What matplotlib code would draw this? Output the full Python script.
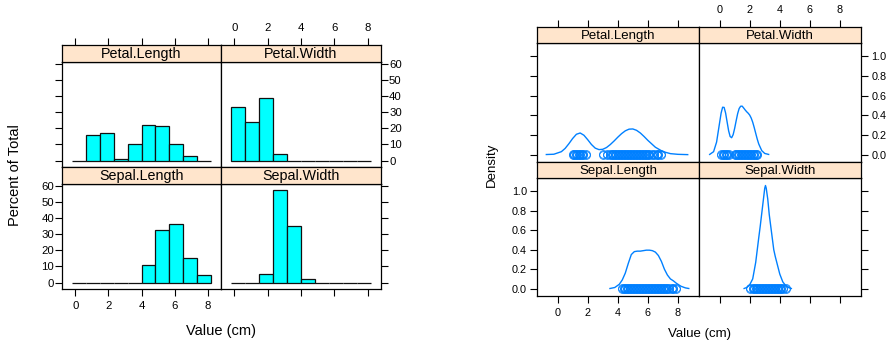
import numpy as np
import matplotlib
matplotlib.use("Agg")
import matplotlib.pyplot as plt

plt.rcParams['font.family'] = ['Liberation Sans', 'DejaVu Sans']

W, H = 893, 344

# panel names, in reading order (top-left, top-right, bottom-left, bottom-right)
variables = ["Petal.Length", "Petal.Width", "Sepal.Length", "Sepal.Width"]

# histogram: common bin edges (cm) and percent of total per panel
hist_edges = [-0.212, 0.630, 1.473, 2.315, 3.158, 4.000, 4.842, 5.685, 6.527, 7.370, 8.212]
pct_petal_length = [0, 16.0, 17.3, 0.7, 10.0, 22.0, 21.3, 10.0, 2.7, 0]
pct_petal_width = [33.3, 24.0, 38.7, 4.0, 0, 0, 0, 0, 0, 0]
pct_sepal_length = [0, 0, 0, 0, 0, 10.7, 32.7, 36.7, 15.3, 4.7]
pct_sepal_width = [0, 0, 5.3, 57.3, 35.3, 2.0, 0, 0, 0, 0]

# density curves
dens_pl_x = [-0.75, -0.25, 0.25, 0.5, 0.75, 1.0, 1.25, 1.5, 1.75, 2.0, 2.25, 2.5, 2.75,
             3.0, 3.25, 3.5, 3.75, 4.0, 4.25, 4.5, 4.75, 5.0, 5.25, 5.5, 5.75, 6.0,
             6.5, 7.0, 7.5, 8.0, 8.65]
dens_pl_y = [0.001, 0.004, 0.030, 0.063, 0.111, 0.164, 0.207, 0.220, 0.197, 0.152, 0.103,
             0.066, 0.051, 0.054, 0.072, 0.102, 0.138, 0.177, 0.213, 0.242, 0.259, 0.261,
             0.247, 0.220, 0.184, 0.145, 0.075, 0.031, 0.010, 0.003, 0.000]

dens_pw_x = [-0.66, -0.4, -0.2, 0.0, 0.1, 0.2, 0.3, 0.4, 0.5, 0.6, 0.7, 0.8, 0.9, 1.0,
             1.1, 1.2, 1.3, 1.4, 1.5, 1.6, 1.7, 1.8, 1.9, 2.0, 2.1, 2.2, 2.3, 2.4, 2.5,
             2.6, 2.8, 3.0, 3.26]
dens_pw_y = [0.002, 0.030, 0.128, 0.325, 0.422, 0.482, 0.480, 0.422, 0.331, 0.242, 0.184,
             0.172, 0.203, 0.267, 0.344, 0.417, 0.469, 0.492, 0.493, 0.474, 0.454, 0.436,
             0.421, 0.402, 0.372, 0.330, 0.276, 0.217, 0.159, 0.109, 0.041, 0.012, 0.002]

dens_sl_x = [3.48, 3.8, 4.1, 4.3, 4.5, 4.7, 4.9, 5.1, 5.3, 5.5, 5.7, 5.9, 6.1, 6.3, 6.5,
             6.7, 6.9, 7.1, 7.3, 7.5, 7.7, 7.9, 8.2, 8.5, 8.72]
dens_sl_y = [0.002, 0.012, 0.045, 0.090, 0.160, 0.260, 0.350, 0.380, 0.385, 0.385, 0.390,
             0.395, 0.395, 0.390, 0.375, 0.340, 0.280, 0.200, 0.140, 0.100, 0.080, 0.055,
             0.025, 0.008, 0.002]

dens_sw_x = [1.63, 1.8, 2.0, 2.2, 2.4, 2.6, 2.7, 2.8, 2.9, 3.0, 3.05, 3.1, 3.2, 3.3, 3.4,
             3.5, 3.6, 3.7, 3.8, 3.9, 4.0, 4.2, 4.4, 4.6, 4.77]
dens_sw_y = [0.002, 0.012, 0.040, 0.100, 0.270, 0.520, 0.640, 0.770, 0.900, 1.030, 1.058,
             1.030, 0.920, 0.760, 0.640, 0.520, 0.400, 0.330, 0.270, 0.210, 0.150, 0.070,
             0.030, 0.010, 0.002]

# observed values shown as points under the density curves
pts_petal_length = [1.0, 1.1, 1.2, 1.3, 1.4, 1.5, 1.6, 1.7, 1.9, 3.0, 3.3, 3.5, 3.6, 3.7,
                    3.8, 3.9, 4.0, 4.1, 4.2, 4.3, 4.4, 4.5, 4.6, 4.7, 4.8, 4.9, 5.0, 5.1,
                    5.2, 5.3, 5.4, 5.5, 5.6, 5.7, 5.8, 5.9, 6.0, 6.1, 6.3, 6.4, 6.6, 6.7, 6.9]
pts_petal_width = [0.1, 0.2, 0.3, 0.4, 0.5, 0.6, 1.0, 1.1, 1.2, 1.3, 1.4, 1.5, 1.6, 1.7,
                   1.8, 1.9, 2.0, 2.1, 2.2, 2.3, 2.4, 2.5]
pts_sepal_length = [4.3, 4.4, 4.5, 4.6, 4.7, 4.8, 4.9, 5.0, 5.1, 5.2, 5.3, 5.4, 5.5, 5.6,
                    5.7, 5.8, 5.9, 6.0, 6.1, 6.2, 6.3, 6.4, 6.5, 6.6, 6.7, 6.8, 6.9, 7.0,
                    7.1, 7.2, 7.3, 7.4, 7.6, 7.7, 7.9]
pts_sepal_width = [2.0, 2.2, 2.3, 2.4, 2.5, 2.6, 2.7, 2.8, 2.9, 3.0, 3.1, 3.2, 3.3, 3.4,
                   3.5, 3.6, 3.7, 3.8, 3.9, 4.0, 4.1, 4.2, 4.4]

hist_pct = [pct_petal_length, pct_petal_width, pct_sepal_length, pct_sepal_width]
dens_xy = [(dens_pl_x, dens_pl_y), (dens_pw_x, dens_pw_y),
           (dens_sl_x, dens_sl_y), (dens_sw_x, dens_sw_y)]
dens_pts = [pts_petal_length, pts_petal_width, pts_sepal_length, pts_sepal_width]

STRIP = '#ffe5cc'
BLUE = '#0080ff'


def box(x0, y0, x1, y1):
    return [x0 / W, 1 - y1 / H, (x1 - x0) / W, (y1 - y0) / H]


def trellis(fig, cols, rows, xlim, ylim, xticks, yticks, yfmt, tsize, ssize, ypad):
    """Build a 2x2 lattice-like grid; rows = [(strip_top, panel_top, panel_bottom), ...]"""
    axes = []
    for r, (s0, p0, p1) in enumerate(rows):
        for c, (x0, x1) in enumerate(cols):
            i = r * 2 + c
            ax = fig.add_axes(box(x0, p0, x1, p1))
            sax = fig.add_axes(box(x0, s0, x1, p0))
            sax.set_facecolor(STRIP)
            sax.text(0.5, 0.45, variables[i], transform=sax.transAxes,
                     ha='center', va='center', fontsize=ssize)
            for a in (ax, sax):
                a.set_xlim(xlim)
                for sp in a.spines.values():
                    sp.set_linewidth(0.9)
                a.tick_params(direction='out', length=4.8, width=0.8, labelsize=tsize)
                a.tick_params(axis='x', pad=3.5)
                a.tick_params(axis='y', pad=ypad)
            ax.set_ylim(ylim)
            ax.set_xticks(xticks)
            ax.set_yticks(yticks)
            ax.set_yticklabels([yfmt.format(v) for v in yticks])
            ax.tick_params(axis='x', bottom=(r == 1), top=False,
                           labelbottom=(r == 1 and c == 0), labeltop=False)
            ax.tick_params(axis='y', left=(c == 0), right=(c == 1),
                           labelleft=(c == 0 and r == 1), labelright=(c == 1 and r == 0))
            sax.set_yticks([])
            sax.set_xticks(xticks)
            sax.tick_params(axis='x', bottom=False, top=(r == 0),
                            labelbottom=False, labeltop=(r == 0 and c == 1))
            axes.append(ax)
    return axes


fig = plt.figure(figsize=(W / 100, H / 100), dpi=100)

# ---- left: histogram ----
hax = trellis(fig, cols=[(62, 221), (221, 381)],
              rows=[(45, 62, 167), (167, 184, 289)],
              xlim=(-0.80, 8.80), ylim=(-4.0, 61.3),
              xticks=[0, 2, 4, 6, 8], yticks=[0, 10, 20, 30, 40, 50, 60],
              yfmt='{:g}', tsize=8.2, ssize=10.3, ypad=1.0)
widths = np.diff(hist_edges)
for ax, pct in zip(hax, hist_pct):
    ax.bar(hist_edges[:-1], pct, width=widths, align='edge',
           color='#00ffff', edgecolor='#111111', linewidth=0.9)
fig.text(221.5 / W, 1 - 331 / H, 'Value (cm)', ha='center', va='center', fontsize=10.5)
fig.text(15 / W, 1 - 175 / H, 'Percent of Total', ha='center', va='center',
         rotation=90, fontsize=10.5)

# ---- right: density ----
dax = trellis(fig, cols=[(537, 699), (699, 861)],
              rows=[(27, 43, 162), (162, 178, 296)],
              xlim=(-1.37, 9.40), ylim=(-0.075, 1.135),
              xticks=[0, 2, 4, 6, 8], yticks=[0.0, 0.2, 0.4, 0.6, 0.8, 1.0],
              yfmt='{:.1f}', tsize=7.8, ssize=9.5, ypad=2.5)
jit = [-0.008, 0.008]
for ax, (dx, dy), pts in zip(dax, dens_xy, dens_pts):
    ax.plot(dx, dy, color=BLUE, lw=1.0)
    for off in jit:
        ax.plot(pts, [off] * len(pts), 'o', mfc='none', mec=BLUE, ms=5.6, mew=0.6)
fig.text(699 / W, 1 - 334 / H, 'Value (cm)', ha='center', va='center', fontsize=9.5)
fig.text(492 / W, 1 - 165 / H, 'Density', ha='center', va='center',
         rotation=90, fontsize=9.5)

fig.savefig('out.png', dpi=100)
